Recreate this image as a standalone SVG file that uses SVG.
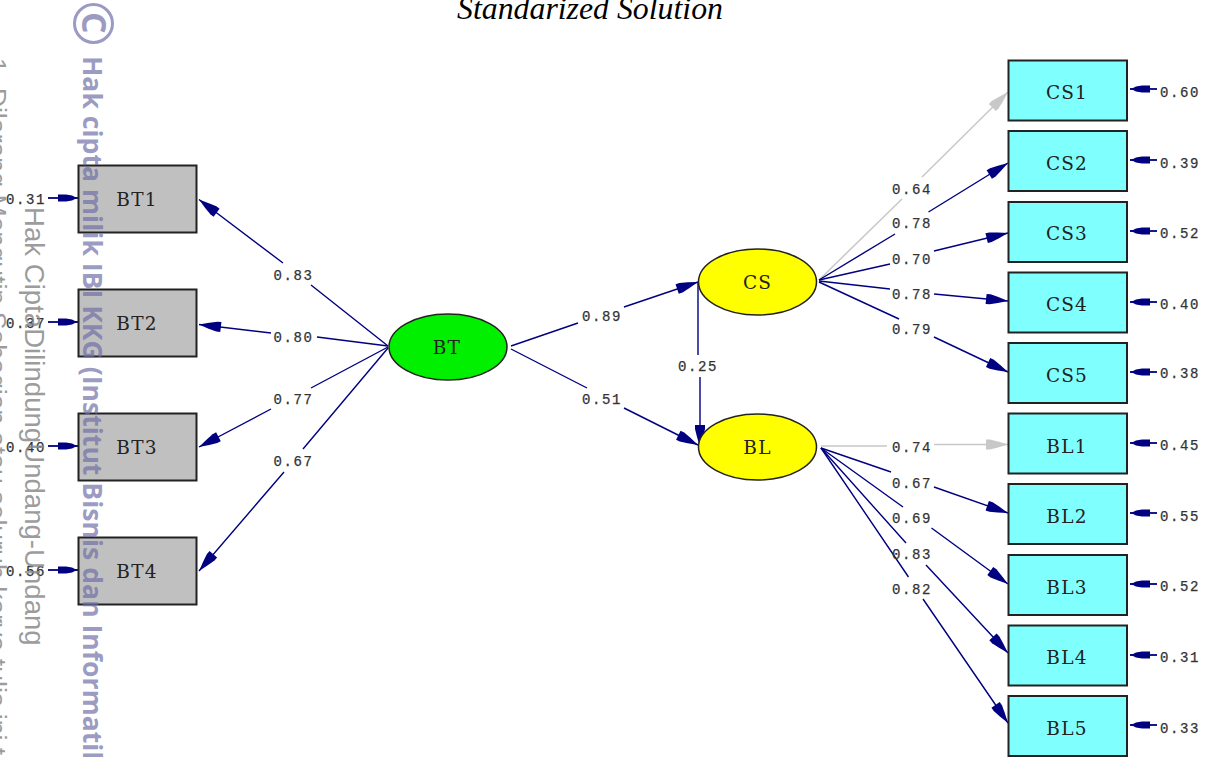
<svg xmlns="http://www.w3.org/2000/svg" width="1211" height="757" viewBox="0 0 1211 757">
<style>
.bg{fill:#fff}
.box{stroke:#222;stroke-width:2}
.m{fill:#c0c0c0}
.c{fill:#80ffff}
.e{stroke:#222;stroke-width:1.5}
.y{fill:#ffff00}
.g{fill:#00f000}
.n{font-family:"DejaVu Serif",serif;font-size:18.5px;letter-spacing:1.2px;fill:#222;text-anchor:middle}
.l{font-family:"Liberation Mono",monospace;font-size:14px;letter-spacing:1.6px;fill:#333;stroke:#333;stroke-width:.25;text-anchor:middle}
.a{fill:none;stroke:#000080;stroke-width:1.4;marker-end:url(#h)}
.s{fill:none;stroke:#000080;stroke-width:1.8;marker-end:url(#k)}
.gr{fill:none;stroke:#c8c8c8;stroke-width:1.5;marker-end:url(#hg)}
.w1{font-family:"Open Sans",sans-serif;font-weight:bold;font-size:26.6px;fill:#6f6fa8;fill-opacity:.7}
.w2{font-family:"Liberation Sans",sans-serif;fill:#8a8a8a;fill-opacity:.85}
</style>
<defs>
<marker id="h" markerUnits="userSpaceOnUse" markerWidth="26" markerHeight="14" viewBox="-1 -7 26 14" refX="22" refY="0" orient="auto"><path d="M0,-5L4,-5L12,-3L22,0L12,3L4,5L0,5z" fill="#000080"/></marker>
<marker id="hg" markerUnits="userSpaceOnUse" markerWidth="26" markerHeight="14" viewBox="-1 -7 26 14" refX="22" refY="0" orient="auto"><path d="M0,-5L4,-5L12,-3L22,0L12,3L4,5L0,5z" fill="#c8c8c8"/></marker>
<marker id="k" markerUnits="userSpaceOnUse" markerWidth="24" markerHeight="10" viewBox="-1 -5 24 10" refX="20" refY="0" orient="auto"><path d="M0,-3.500L8,-3.500L14,-2.500L17,-1L20,0L17,1L14,2.500L8,3.500L0,3.500z" fill="#000080"/></marker>
</defs>
<rect class="bg" width="1211" height="757"/>
<text x="590" y="19" font-family="Liberation Serif,serif" font-style="italic" font-size="31.8" text-anchor="middle" fill="#000">Standarized Solution</text>
<g id="connectors">
<path class="a" d="M388,346L311,285M283,263L199,199.500"/>
<path class="a" d="M388,346L317,337M271,333L199,324.500"/>
<path class="a" d="M388,347L311,388M271,409L199,447"/>
<path class="a" d="M388,348L303,449M284,472L199,571"/>
<path class="a" d="M511,346L578,323M624,307L698,282"/>
<path class="a" d="M511,349L587,388M624,408L698,445"/>
<path class="a" d="M698,282L698,355M700,377L700,447"/>
<path class="gr" d="M819,280L902,199M922,177L1008,92"/>
<path class="a" d="M819,280L895,234M928.500,212L1008,163"/>
<path class="a" d="M819,280L890,264M934,251L1008,233"/>
<path class="a" d="M819,281L890,289M934,294L1008,301"/>
<path class="a" d="M819,282L899,319M934,337L1008,372"/>
<path class="gr" d="M821,446L887,446M934,444.500L1008,444.500"/>
<path class="a" d="M821,448L891,472M934,487L1008,513"/>
<path class="a" d="M821,448L903,507M931.500,528L1008,584"/>
<path class="a" d="M821,448L906,543M926,565L1008,653"/>
<path class="a" d="M821,448L908.500,577M923,599L1008,723"/>
<g id="error-arrows">
<path class="s" d="M48,198L78,198"/><path class="s" d="M48,322L78,322"/><path class="s" d="M48,446L78,446"/><path class="s" d="M48,570L78,570"/>
<path class="s" d="M1157,89L1130,89"/><path class="s" d="M1157,160L1130,160"/><path class="s" d="M1157,231L1130,231"/><path class="s" d="M1157,302L1130,302"/><path class="s" d="M1157,372L1130,372"/>
<path class="s" d="M1157,443L1130,443"/><path class="s" d="M1157,513L1130,513"/><path class="s" d="M1157,584L1130,584"/><path class="s" d="M1157,655L1130,655"/><path class="s" d="M1157,725L1130,725"/>
</g>
</g>
<g id="BT1"><rect class="box m" x="78.500" y="165.500" width="118" height="67"/><text class="n" x="137" y="205.500">BT1</text></g>
<g id="BT2"><rect class="box m" x="78.500" y="289.500" width="118" height="67"/><text class="n" x="137" y="329.500">BT2</text></g>
<g id="BT3"><rect class="box m" x="78.500" y="413.500" width="118" height="67"/><text class="n" x="137" y="453.500">BT3</text></g>
<g id="BT4"><rect class="box m" x="78.500" y="537.500" width="118" height="67"/><text class="n" x="137" y="577.500">BT4</text></g>
<g id="BT"><ellipse class="e g" cx="448" cy="347" rx="59" ry="33"/><text class="n" x="447" y="353.500">BT</text></g>
<g id="CS"><ellipse class="e y" cx="757.500" cy="282" rx="59" ry="33"/><text class="n" x="757.500" y="288.500">CS</text></g>
<g id="BL"><ellipse class="e y" cx="757.500" cy="447" rx="59" ry="33"/><text class="n" x="757.500" y="453.500">BL</text></g>
<g id="CS1"><rect class="box c" x="1008.500" y="60.500" width="118.500" height="60"/><text class="n" x="1067" y="98.500">CS1</text></g>
<g id="CS2"><rect class="box c" x="1008.500" y="131" width="118.500" height="60"/><text class="n" x="1067" y="169.500">CS2</text></g>
<g id="CS3"><rect class="box c" x="1008.500" y="202" width="118.500" height="60"/><text class="n" x="1067" y="239.500">CS3</text></g>
<g id="CS4"><rect class="box c" x="1008.500" y="272.500" width="118.500" height="60"/><text class="n" x="1067" y="310.500">CS4</text></g>
<g id="CS5"><rect class="box c" x="1008.500" y="343" width="118.500" height="60"/><text class="n" x="1067" y="381.500">CS5</text></g>
<g id="BL1"><rect class="box c" x="1008.500" y="413.500" width="118.500" height="60"/><text class="n" x="1067" y="452.500">BL1</text></g>
<g id="BL2"><rect class="box c" x="1008.500" y="484" width="118.500" height="60"/><text class="n" x="1067" y="522.500">BL2</text></g>
<g id="BL3"><rect class="box c" x="1008.500" y="555" width="118.500" height="60"/><text class="n" x="1067" y="593.500">BL3</text></g>
<g id="BL4"><rect class="box c" x="1008.500" y="625.500" width="118.500" height="60"/><text class="n" x="1067" y="663.500">BL4</text></g>
<g id="BL5"><rect class="box c" x="1008.500" y="696" width="118.500" height="60"/><text class="n" x="1067" y="734.500">BL5</text></g>
<g id="labels">
<text class="l" x="293.500" y="280">0.83</text><text class="l" x="293.500" y="342">0.80</text><text class="l" x="293.500" y="404">0.77</text><text class="l" x="293.500" y="466">0.67</text>
<text class="l" x="602" y="321">0.89</text><text class="l" x="602" y="404">0.51</text><text class="l" x="698" y="371">0.25</text>
<text class="l" x="912" y="194">0.64</text><text class="l" x="912" y="228">0.78</text><text class="l" x="912" y="264">0.70</text><text class="l" x="912" y="299">0.78</text><text class="l" x="912" y="334">0.79</text>
<text class="l" x="912" y="452">0.74</text><text class="l" x="912" y="488">0.67</text><text class="l" x="912" y="523">0.69</text><text class="l" x="912" y="559">0.83</text><text class="l" x="912" y="594">0.82</text>
<text class="l" x="26" y="204">0.31</text><text class="l" x="26" y="328">0.37</text><text class="l" x="26" y="452">0.40</text><text class="l" x="26" y="576">0.56</text>
<text class="l" x="1180" y="97">0.60</text><text class="l" x="1180" y="168">0.39</text><text class="l" x="1180" y="238">0.52</text><text class="l" x="1180" y="309">0.40</text><text class="l" x="1180" y="378">0.38</text>
<text class="l" x="1180" y="450">0.45</text><text class="l" x="1180" y="521">0.55</text><text class="l" x="1180" y="591">0.52</text><text class="l" x="1180" y="662">0.31</text><text class="l" x="1180" y="733">0.33</text>
</g>
<g id="watermark">
<circle cx="93.500" cy="23.500" r="19" fill="none" stroke="#9a9ac4" stroke-width="3"/>
<text class="w1" transform="translate(82,12) rotate(90)" style="font-size:34px">C</text>
<text class="w1" transform="translate(83,56) rotate(90)">Hak cipta milik IBI KKG (Institut Bisnis dan Informatik</text>
<text class="w2" transform="translate(25,207) rotate(90)" font-size="27.6">Hak CiptaDilindungUndang-Undang</text>
<text class="w2" transform="translate(-12,58) rotate(90)" font-size="26.7">1. Dilarang Mengutip Sebagian atau seluruh karya tulis ini t</text>
</g>
</svg>
